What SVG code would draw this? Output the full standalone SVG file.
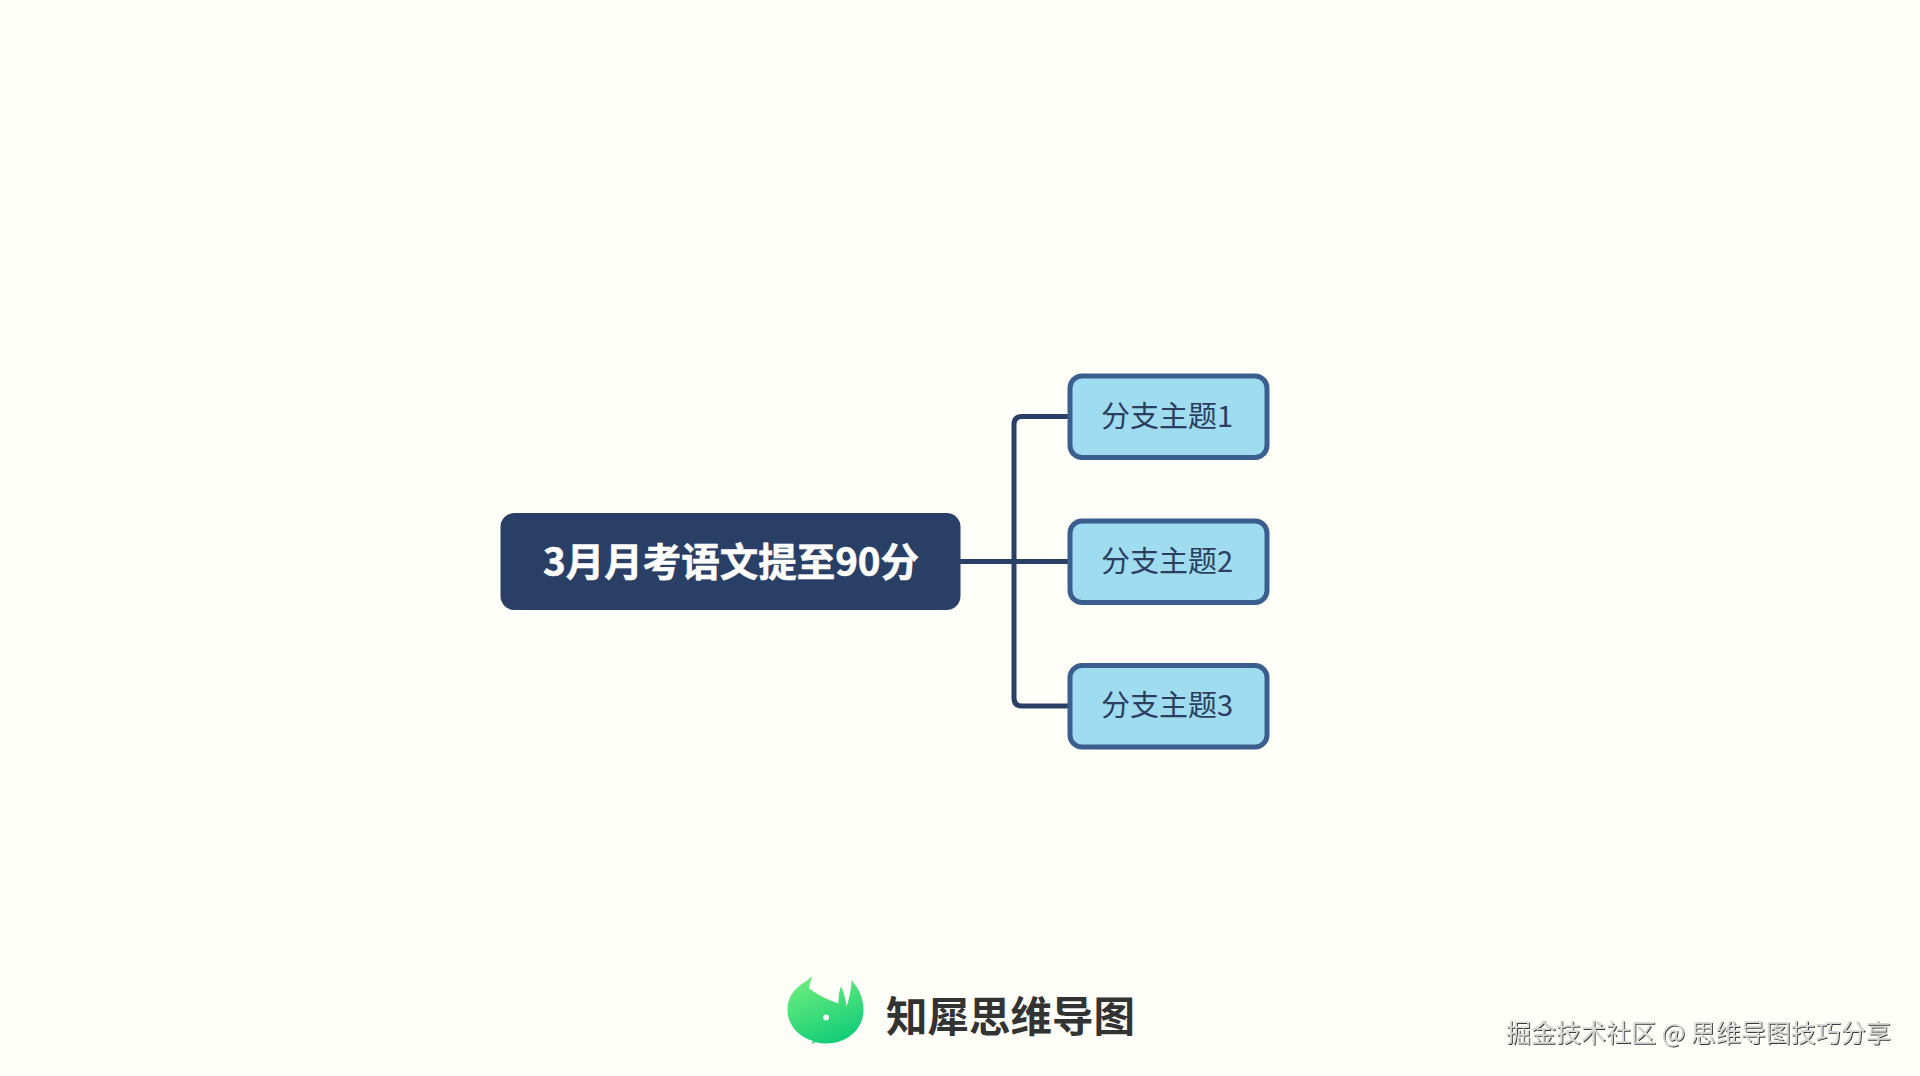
<svg xmlns="http://www.w3.org/2000/svg" width="1920" height="1076" viewBox="0 0 1920 1076">
<style>
text{font-family:"Noto Sans CJK SC","Noto Sans",sans-serif}
.branch rect{fill:#9fdcef;stroke:#3a5f8f;stroke-width:5}
.branch text{font-size:29px;fill:#2b4060;text-anchor:middle}
.conn{fill:none;stroke:#2a3f66;stroke-width:5}
</style>
<defs>
<linearGradient id="lg" x1="0.25" y1="0.15" x2="0.6" y2="1">
<stop offset="0" stop-color="#62ea7c"/><stop offset="1" stop-color="#12cc78"/>
</linearGradient>
<filter id="sh" x="-5%" y="-20%" width="110%" height="150%">
<feDropShadow dx="1" dy="1" stdDeviation="0.4" flood-color="#222" flood-opacity="0.9"/>
</filter>
</defs>
<rect width="1920" height="1076" fill="#fffff9"/>
<g id="connectors">
<path class="conn" d="M960 561.500H1068"/>
<path class="conn" d="M1068 416.500H1022Q1014 416.500 1014 424.500V698Q1014 706 1022 706H1068"/>
</g>
<g id="root">
<rect x="500.500" y="513" width="460" height="97" rx="14" fill="#2a3f66"/>
<text x="731" y="576" font-size="38.500" font-weight="700" fill="#fff" stroke="#fff" stroke-width="0.600" text-anchor="middle">3月月考语文提至90分</text>
</g>
<g id="b1" class="branch"><rect x="1070" y="376" width="197" height="81.500" rx="12"/><text x="1167" y="427">分支主题1</text></g>
<g id="b2" class="branch"><rect x="1070" y="521" width="197" height="81.500" rx="12"/><text x="1167" y="572">分支主题2</text></g>
<g id="b3" class="branch"><rect x="1070" y="665.500" width="197" height="81.500" rx="12"/><text x="1167" y="716">分支主题3</text></g>
<g id="logo">
<path fill="url(#lg)" d="M811.700 976L809 988.500Q822 998 838.500 1003.500Q838 994 841 986Q845 995 846.500 1006.500Q851 994 851.500 980C859 989 863.500 998 863.500 1010C863.500 1030 846 1043.500 826.500 1043.500Q820 1043.500 815 1042L811.500 1044.500L813 1041C797 1036 787.500 1024 787.500 1010C787.500 998 793 990 802.500 983.500Q808 981 811.700 976Z"/>
<circle cx="826" cy="1017.500" r="3" fill="#fff"/>
<text x="886" y="1032" font-size="41.500" font-weight="700" fill="#333">知犀思维导图</text>
</g>
<text id="watermark" x="1506" y="1042" font-size="25" fill="#d8d8d8" filter="url(#sh)">掘金技术社区 @ 思维导图技巧分享</text>
</svg>
